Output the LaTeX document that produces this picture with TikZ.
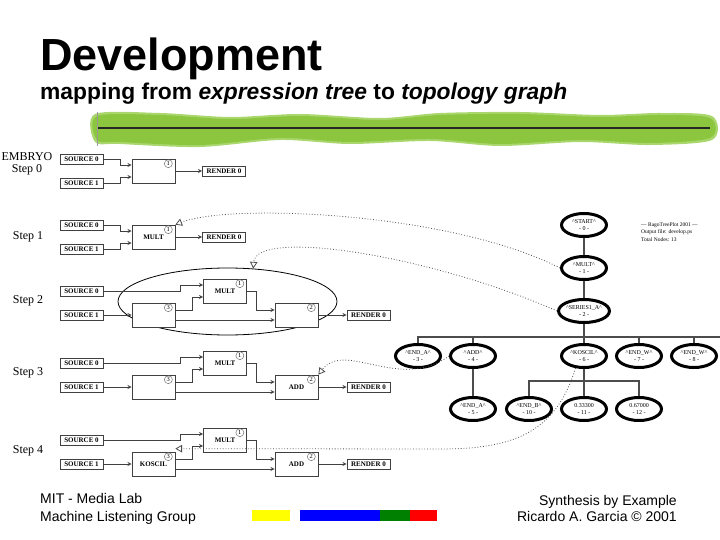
\documentclass[tikz,border=0pt]{standalone}
\usepackage{fontspec}
\setmainfont{Liberation Serif}
\setsansfont{Liberation Sans}
\usepackage{xcolor}
\usetikzlibrary{shapes,arrows,positioning,calc}

\definecolor{brushgreen}{RGB}{140,198,63}
\definecolor{brushlight}{RGB}{170,214,110}
\definecolor{baryellow}{RGB}{255,255,0}
\definecolor{barblue}{RGB}{0,0,255}
\definecolor{bargreen}{RGB}{0,128,0}
\definecolor{barred}{RGB}{255,0,0}

\begin{document}
\begin{tikzpicture}[x=1pt,y=-1pt,>=stealth,
  src/.style={draw=black!75,line width=0.7pt,minimum width=43pt,minimum height=10pt,inner sep=0pt,font=\bfseries\fontsize{7}{7}\selectfont},
  blk/.style={draw=black!75,line width=0.7pt,minimum width=43pt,minimum height=24pt,inner sep=0pt,font=\bfseries\fontsize{7}{7}\selectfont},
  num/.style={circle,draw=black!55,line width=0.5pt,inner sep=0pt,minimum size=8pt,font=\fontsize{6.5}{6.5}\selectfont},
  wire/.style={->,draw=black!75,line width=0.9pt},
  steplbl/.style={align=center,font=\fontsize{12}{12}\selectfont},
  tnode/.style={ellipse,draw,line width=3pt,minimum width=45pt,minimum height=23pt,inner sep=0pt,align=center,font=\fontsize{6}{7}\selectfont},
  treeline/.style={draw=black!70,line width=1.2pt},
  dotlink/.style={->,>=open triangle 60,dotted,line width=0.8pt,draw=black!70}]
  \useasboundingbox (0,0) rectangle (720,540);

  % header
  \node[anchor=base west,inner sep=0pt,font=\sffamily\bfseries\fontsize{45}{45}\selectfont] (title) at (40,71) {Development};
  \node[anchor=base west,inner sep=0pt,font=\sffamily\bfseries\fontsize{22.8}{23}\selectfont] (sub) at (40,100)
    {mapping from \textit{expression tree} to \textit{topology graph}};
  \fill[brushlight] plot[smooth cycle,tension=0.5] coordinates {(95,114) (160,113) (230,117) (300,114) (380,118) (440,113) (520,112) (600,115) (660,113) (712,116) (712,140) (650,145) (580,142) (500,146) (430,141) (350,144) (280,140) (200,147) (120,144) (95,142)};
  \fill[brushgreen] plot[smooth cycle,tension=0.5] coordinates {(97,116) (160,115) (230,119) (300,116) (380,120) (440,115) (520,114) (600,117) (660,115) (710,118) (710,138) (650,143) (580,140) (500,144) (430,139) (350,142) (280,138) (200,145) (120,142) (97,140)};
  \draw[line width=2.4pt,black!85] (97,128) -- (710,128);
  \draw[black!40,line width=0.6pt] (97,112) -- (97,146);

  % step labels
  \node[steplbl] (l0) at (27,164) {EMBRYO\\Step 0};
  \node[steplbl] (l1) at (28,237) {Step 1};
  \node[steplbl] (l2) at (28,301) {Step 2};
  \node[steplbl] (l3) at (28,373) {Step 3};
  \node[steplbl] (l4) at (28,451) {Step 4};

  % step 0
  \node[src] (s00) at (81.5,159) {SOURCE 0};
  \node[src] (s01) at (81.5,183) {SOURCE 1};
  \node[blk] (b0) at (153.5,171) {};
  \node[num] (n0) at ([xshift=-7pt,yshift=-5pt]b0.north east) {1};
  \node[src] (r0) at (224,171) {RENDER 0};
  \draw[wire] (s00.east) -- ++(17,0) |- ([yshift=6pt]b0.west);
  \draw[wire] (s01.east) -- ++(17,0) |- ([yshift=-6pt]b0.west);
  \draw[wire] (b0.east) -- (r0.west);

  % step 1
  \node[src] (s10) at (81.5,225) {SOURCE 0};
  \node[src] (s11) at (81.5,249) {SOURCE 1};
  \node[blk] (m1) at (153.5,237) {MULT};
  \node[num] (n1) at ([xshift=-7pt,yshift=-5pt]m1.north east) {1};
  \node[src] (r1) at (224,237) {RENDER 0};
  \draw[wire] (s10.east) -- ++(17,0) |- ([yshift=6pt]m1.west);
  \draw[wire] (s11.east) -- ++(17,0) |- ([yshift=-6pt]m1.west);
  \draw[wire] (m1.east) -- (r1.west);

  % step 2
  \node[draw,ellipse,line width=0.8pt,minimum width=219pt,minimum height=67pt] (grp) at (227.5,301.5) {};
  \node[src] (s20) at (81.5,291) {SOURCE 0};
  \node[src] (s21) at (81.5,315) {SOURCE 1};
  \node[blk,fill=white] (m2) at (225,291) {MULT};
  \node[num] (n21) at ([xshift=-7pt,yshift=-5pt]m2.north east) {1};
  \node[blk,fill=white] (b32) at (153.5,315) {};
  \node[num] (n23) at ([xshift=-7pt,yshift=-5pt]b32.north east) {3};
  \node[blk,fill=white] (b22) at (296.5,315) {};
  \node[num] (n22) at ([xshift=-7pt,yshift=-5pt]b22.north east) {2};
  \node[src] (r2) at (368.5,315) {RENDER 0};
  \draw[wire] (s20.east) -- ++(77,0) |- ([yshift=6pt]m2.west);
  \draw[wire] (s21.east) -- (b32.west);
  \draw[wire] ([yshift=5pt]b32.east) -- ++(17,0) |- ([yshift=-6pt]m2.west);
  \draw[wire] ([yshift=-5pt]b32.east) -- ([yshift=-5pt]b22.west);
  \draw[wire] (m2.east) -- ++(10,0) |- ([yshift=5pt]b22.west);
  \draw[wire] (b22.east) -- (r2.west);

  % step 3
  \node[src] (s30) at (81.5,363) {SOURCE 0};
  \node[src] (s31) at (81.5,387) {SOURCE 1};
  \node[blk] (m3) at (225,363) {MULT};
  \node[num] (n31) at ([xshift=-7pt,yshift=-5pt]m3.north east) {1};
  \node[blk] (b33) at (153.5,387) {};
  \node[num] (n33) at ([xshift=-7pt,yshift=-5pt]b33.north east) {3};
  \node[blk] (a3) at (296.5,387) {ADD};
  \node[num] (n32) at ([xshift=-7pt,yshift=-5pt]a3.north east) {2};
  \node[src] (r3) at (368.5,387) {RENDER 0};
  \draw[wire] (s30.east) -- ++(77,0) |- ([yshift=6pt]m3.west);
  \draw[wire] (s31.east) -- (b33.west);
  \draw[wire] ([yshift=5pt]b33.east) -- ++(17,0) |- ([yshift=-6pt]m3.west);
  \draw[wire] ([yshift=-5pt]b33.east) -- ([yshift=-5pt]a3.west);
  \draw[wire] (m3.east) -- ++(10,0) |- ([yshift=5pt]a3.west);
  \draw[wire] (a3.east) -- (r3.west);

  % step 4
  \node[src] (s40) at (81.5,440) {SOURCE 0};
  \node[src] (s41) at (81.5,464) {SOURCE 1};
  \node[blk] (m4) at (225,440) {MULT};
  \node[num] (n41) at ([xshift=-7pt,yshift=-5pt]m4.north east) {1};
  \node[blk] (k4) at (153.5,464) {KOSCIL};
  \node[num] (n43) at ([xshift=-7pt,yshift=-5pt]k4.north east) {3};
  \node[blk] (a4) at (296.5,464) {ADD};
  \node[num] (n42) at ([xshift=-7pt,yshift=-5pt]a4.north east) {2};
  \node[src] (r4) at (368.5,464) {RENDER 0};
  \draw[wire] (s40.east) -- ++(77,0) |- ([yshift=6pt]m4.west);
  \draw[wire] (s41.east) -- (k4.west);
  \draw[wire] ([yshift=5pt]k4.east) -- ++(17,0) |- ([yshift=-6pt]m4.west);
  \draw[wire] ([yshift=-5pt]k4.east) -- ([yshift=-5pt]a4.west);
  \draw[wire] (m4.east) -- ++(10,0) |- ([yshift=5pt]a4.west);
  \draw[wire] (a4.east) -- (r4.west);

  % expression tree
  \node[tnode] (tstart) at (584,225) {\textasciicircum START\textasciicircum\\- 0 -};
  \node[tnode] (tmult) at (584,268) {\textasciicircum MULT\textasciicircum\\- 1 -};
  \node[tnode] (tser) at (584,311) {\textasciicircum SERIES1\_A\textasciicircum\\- 2 -};
  \node[tnode] (tenda) at (418,356) {\textasciicircum END\_A\textasciicircum\\- 3 -};
  \node[tnode] (tadd) at (473,356) {\textasciicircum ADD\textasciicircum\\- 4 -};
  \node[tnode] (tkos) at (584,356) {\textasciicircum KOSCIL\textasciicircum\\- 6 -};
  \node[tnode] (tendw) at (639,356) {\textasciicircum END\_W\textasciicircum\\- 7 -};
  \node[tnode] (tendwb) at (694,356) {\textasciicircum END\_W\textasciicircum\\- 8 -};
  \node[tnode] (tendab) at (473,409) {\textasciicircum END\_A\textasciicircum\\- 5 -};
  \node[tnode] (tendb) at (529,409) {\textasciicircum END\_B\textasciicircum\\- 10 -};
  \node[tnode] (tc11) at (584,409) {0.33300\\- 11 -};
  \node[tnode] (tc12) at (639,409) {0.67000\\- 12 -};
  \node[anchor=west,align=left,inner sep=0pt,font=\fontsize{5.5}{7.5}\selectfont] (legend) at (641,232)
    {--- RagoTreePlot 2001 ---\\Output file: develop.ps\\Total Nodes: 13};

  \coordinate (bar) at (720,337);
  \coordinate (kbar) at (584,381);
  \draw[treeline] (tstart) -- (tmult);
  \draw[treeline] (tmult) -- (tser);
  \draw[treeline] (tser.south) -- (tser.south |- bar);
  \draw[treeline] (tenda.north) |- (bar);
  \draw[treeline] (tadd.north) -- (tadd.north |- bar);
  \draw[treeline] (tkos.north) -- (tkos.north |- bar);
  \draw[treeline] (tendw.north) -- (tendw.north |- bar);
  \draw[treeline] (tendwb.north) -- (tendwb.north |- bar);
  \draw[treeline] (tadd) -- (tendab);
  \draw[treeline] (tkos) -- (tc11);
  \draw[treeline] (tendb.north) |- (kbar) -| (tc12.north);

  % tree to graph
  \draw[dotlink] (tmult.west) .. controls (450,212) and (230,203) .. (m1.north east);
  \draw[dotlink] (tser.west) .. controls (430,255) and (256,228) .. (grp.52);
  \draw[dotlink] (tadd.west) .. controls (400,392) and (345,340) .. (a3.north east);
  \draw[dotlink] (tkos.235) .. controls (555,435) and (510,449) .. (440,449) -- ([yshift=3pt]k4.north east);

  % footer
  \node[anchor=base west,inner sep=0pt,font=\sffamily\fontsize{14}{14}\selectfont] (mit) at (40,503) {MIT - Media Lab};
  \node[anchor=base west,inner sep=0pt,font=\sffamily\fontsize{14}{14}\selectfont] (mlg) at (40,521) {Machine Listening Group};
  \node[anchor=base east,inner sep=0pt,font=\sffamily\fontsize{14}{14}\selectfont] (syn) at (677,505) {Synthesis by Example};
  \node[anchor=base east,inner sep=0pt,font=\sffamily\fontsize{14}{14}\selectfont] (rag) at (677,521) {Ricardo A. Garcia © 2001};
  \fill[baryellow] (252,510) rectangle (290,521);
  \fill[barblue] (300,510) rectangle (380,521);
  \fill[bargreen] (380,510) rectangle (410,521);
  \fill[barred] (410,510) rectangle (437,521);
\end{tikzpicture}
\end{document}
